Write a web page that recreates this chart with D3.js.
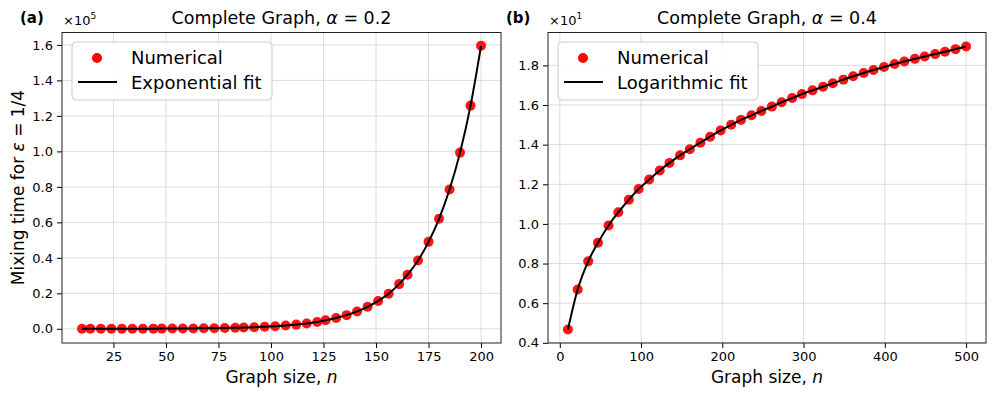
<!DOCTYPE html>
<html>
<head>
<meta charset="utf-8">
<script src="https://cdn.jsdelivr.net/npm/d3@7"></script>
<style>
  html, body { margin: 0; padding: 0; background: #fff; }
  svg { display: block; font-family: "DejaVu Sans", sans-serif; }
</style>
</head>
<body>
<div id="chart"></div>
<script>
// panel (a): complete graph, alpha = 0.2
const sizesA = [10, 14, 19, 24, 29, 34, 39, 44, 48, 53, 58, 63, 68, 73, 78, 83, 87, 92, 97, 102,
  107, 112, 117, 122, 126, 131, 136, 141, 146, 151, 156, 161, 165, 170, 175, 180, 185, 190, 195, 200];
const timesA = [20, 20, 30, 30, 40, 50, 70, 90, 110, 140, 180, 220, 280, 360, 450, 570, 730, 920, 1170, 1480,
  1870, 2370, 3000, 3800, 4800, 6100, 7700, 9800, 12400, 15700, 19800, 25200, 30500, 38500, 49000, 62000, 78500, 99300, 125800, 159500];

// panel (b): complete graph, alpha = 0.4
const sizesB = [10, 22, 35, 47, 60, 72, 85, 97, 110, 123, 135, 148, 160, 173, 185, 198, 211, 223, 236, 248,
  261, 273, 286, 298, 311, 324, 336, 349, 361, 374, 386, 399, 412, 424, 437, 449, 462, 474, 487, 500];
const timesB = [4.67, 6.69, 8.11, 9.05, 9.92, 10.59, 11.22, 11.76, 12.24, 12.70, 13.08, 13.46, 13.77, 14.10, 14.40, 14.72, 15.00, 15.25, 15.48, 15.70,
  15.92, 16.14, 16.35, 16.55, 16.74, 16.92, 17.10, 17.28, 17.45, 17.62, 17.77, 17.92, 18.07, 18.20, 18.33, 18.45, 18.57, 18.69, 18.82, 18.95];

const xTicksA = [25, 50, 75, 100, 125, 150, 175, 200];
const yTicksA = [0, 20000, 40000, 60000, 80000, 100000, 120000, 140000, 160000];
const xTicksB = [0, 100, 200, 300, 400, 500];
const yTicksB = [4, 6, 8, 10, 12, 14, 16, 18];

const W = 996, H = 397;

const svg = d3.select("#chart")
  .append("svg")
  .attr("width", W)
  .attr("height", H);

function drawPanel(p) {
  const x = d3.scaleLinear().domain(p.xDomain).range([p.left, p.right]);
  const y = d3.scaleLinear().domain(p.yDomain).range([p.bottom, p.top]);
  const g = svg.append("g");

  // grid
  g.append("g")
    .selectAll("line")
    .data(p.xTicks)
    .join("line")
    .attr("x1", (d) => x(d)).attr("x2", (d) => x(d))
    .attr("y1", p.top).attr("y2", p.bottom)
    .attr("stroke", "#dcdcdc").attr("stroke-width", 1);
  g.append("g")
    .selectAll("line")
    .data(p.yTicks)
    .join("line")
    .attr("y1", (d) => y(d)).attr("y2", (d) => y(d))
    .attr("x1", p.left).attr("x2", p.right)
    .attr("stroke", "#dcdcdc").attr("stroke-width", 1);

  // axes
  const xAxis = g.append("g")
    .attr("transform", `translate(0,${p.bottom})`)
    .call(d3.axisBottom(x).tickValues(p.xTicks).tickSize(5).tickPadding(4).tickFormat(d3.format("d")));
  const yAxis = g.append("g")
    .attr("transform", `translate(${p.left},0)`)
    .call(d3.axisLeft(y).tickValues(p.yTicks).tickSize(5).tickPadding(4)
      .tickFormat((d) => (d / p.yScaleDiv).toFixed(1)));
  [xAxis, yAxis].forEach((a) => {
    a.select(".domain").remove();
    a.selectAll("text").attr("font-size", "13px").attr("fill", "#000")
      .attr("font-family", "DejaVu Sans, sans-serif");
    a.selectAll("line").attr("stroke", "#000");
  });

  // points
  g.append("g")
    .selectAll("circle")
    .data(p.sizes)
    .join("circle")
    .attr("cx", (d) => x(d))
    .attr("cy", (d, i) => y(p.times[i]))
    .attr("r", 5)
    .attr("fill", "#ff0000")
    .attr("fill-opacity", 0.92);

  // fit curve
  const line = d3.line()
    .x((d) => x(d[0]))
    .y((d) => y(d[1]))
    .curve(d3.curveMonotoneX);
  g.append("path")
    .datum(p.sizes.map((n, i) => [n, p.times[i]]))
    .attr("d", line)
    .attr("fill", "none")
    .attr("stroke", "#000")
    .attr("stroke-width", 2);

  // frame
  g.append("rect")
    .attr("x", p.left).attr("y", p.top)
    .attr("width", p.right - p.left).attr("height", p.bottom - p.top)
    .attr("fill", "none").attr("stroke", "#222").attr("stroke-width", 1);

  // title
  const cx = (p.left + p.right) / 2;
  const title = g.append("text")
    .attr("x", cx).attr("y", 24)
    .attr("text-anchor", "middle")
    .attr("font-size", "17.5px");
  title.append("tspan").text("Complete Graph, ");
  title.append("tspan").attr("font-style", "italic").text("α");
  title.append("tspan").text(" = " + p.alpha);

  // panel letter
  g.append("text")
    .attr("x", p.left - 42).attr("y", 23)
    .attr("font-size", "15px").attr("font-weight", "bold")
    .text(p.letter);

  // scale factor
  const sf = g.append("text")
    .attr("x", p.left + 1).attr("y", 25)
    .attr("font-size", "13px");
  sf.append("tspan").text("×10");
  sf.append("tspan").attr("font-size", "9px").attr("dy", -6).text(p.exp);

  // x label
  const xl = g.append("text")
    .attr("x", cx).attr("y", 383)
    .attr("text-anchor", "middle")
    .attr("font-size", "17px");
  xl.append("tspan").text("Graph size, ");
  xl.append("tspan").attr("font-style", "italic").text("n");

  // legend
  const lg = g.append("g").attr("transform", `translate(${p.left + 10},${p.top + 9.5})`);
  lg.append("rect")
    .attr("width", p.legendW).attr("height", 58)
    .attr("rx", 4)
    .attr("fill", "#fff").attr("fill-opacity", 0.85)
    .attr("stroke", "#cccccc");
  lg.append("circle").attr("cx", 25).attr("cy", 16).attr("r", 5).attr("fill", "#ff0000");
  lg.append("text").attr("x", 59).attr("y", 22).attr("font-size", "18px").text("Numerical");
  lg.append("line").attr("x1", 6).attr("x2", 45).attr("y1", 40).attr("y2", 40)
    .attr("stroke", "#000").attr("stroke-width", 2);
  lg.append("text").attr("x", 59).attr("y", 47).attr("font-size", "18px").text(p.fitLabel);
}

drawPanel({
  sizes: sizesA, times: timesA,
  xTicks: xTicksA, yTicks: yTicksA,
  xDomain: [0.5, 209.5], yDomain: [-8000, 167000],
  left: 62, right: 501, top: 32.5, bottom: 343,
  yScaleDiv: 100000, exp: "5",
  alpha: "0.2", letter: "(a)",
  fitLabel: "Exponential fit", legendW: 200
});

drawPanel({
  sizes: sizesB, times: timesB,
  xTicks: xTicksB, yTicks: yTicksB,
  xDomain: [-14.5, 524.5], yDomain: [3.99, 19.66],
  left: 548, right: 986, top: 32.5, bottom: 343,
  yScaleDiv: 10, exp: "1",
  alpha: "0.4", letter: "(b)",
  fitLabel: "Logarithmic fit", legendW: 200
});

// shared y label
const yl = svg.append("text")
  .attr("transform", "translate(24,187.5) rotate(-90)")
  .attr("text-anchor", "middle")
  .attr("font-size", "17px");
yl.append("tspan").text("Mixing time for ");
yl.append("tspan").attr("font-style", "italic").text("ε");
yl.append("tspan").text(" = 1/4");
</script>
</body>
</html>
